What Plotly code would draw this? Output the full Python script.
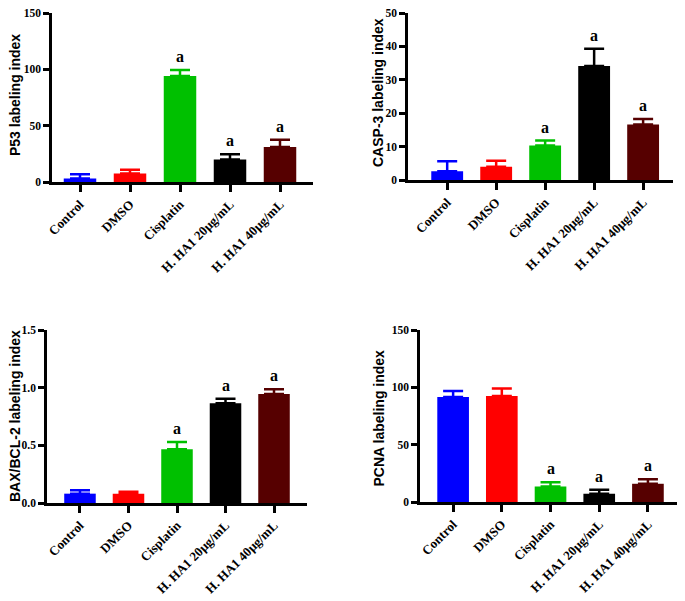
import plotly.graph_objects as go

groups = ["Control", "DMSO", "Cisplatin", "H. HA1 20μg/mL", "H. HA1 40μg/mL"]
colors = ["#0000FF", "#FF0000", "#00C000", "#000000", "#560000"]

p53_mean = [3.2, 7.5, 94, 20, 31]
p53_err = [3.6, 3.4, 5.3, 4.6, 6.4]
p53_sig = ["", "", "a", "a", "a"]

casp3_mean = [2.6, 4.0, 10.3, 34.1, 16.6]
casp3_err = [3.0, 1.8, 1.5, 5.2, 1.7]
casp3_sig = ["", "", "a", "a", "a"]

bax_mean = [0.081, 0.08, 0.467, 0.864, 0.945]
bax_err = [0.029, 0.017, 0.061, 0.04, 0.041]
bax_sig = ["", "", "a", "a", "a"]

pcna_mean = [91.6, 92.5, 13.5, 7.2, 15.9]
pcna_err = [5.2, 6.4, 3.8, 3.5, 4.0]
pcna_sig = ["", "", "a", "a", "a"]

W, H = 685, 601
OFF = 8  # default page body margin offsets the figure on screen


def fx(px):
    return (px - OFF) / W


def fy(py):
    return 1 - (py - OFF) / H


panels = [
    dict(mean=p53_mean, err=p53_err, sig=p53_sig, title="P53 labeling index",
         yr=[0, 150], tv=[0, 50, 100, 150], tt=["0", "50", "100", "150"],
         px=(52, 313), py=(13, 182), xr=[-0.56, 4.66], tx=15, ty=95),
    dict(mean=casp3_mean, err=casp3_err, sig=casp3_sig, title="CASP-3 labeling index",
         yr=[0, 50], tv=[0, 10, 20, 30, 40, 50], tt=["0", "10", "20", "30", "40", "50"],
         px=(408, 673), py=(13, 180), xr=[-0.8, 4.61], tx=378, ty=93),
    dict(mean=bax_mean, err=bax_err, sig=bax_sig, title="BAX/BCL-2 labeling index",
         yr=[0, 1.5], tv=[0, 0.5, 1.0, 1.5], tt=["0.0", "0.5", "1.0", "1.5"],
         px=(47, 307), py=(330, 503), xr=[-0.68, 4.68], tx=15, ty=416),
    dict(mean=pcna_mean, err=pcna_err, sig=pcna_sig, title="PCNA labeling index",
         yr=[0, 150], tv=[0, 50, 100, 150], tt=["0", "50", "100", "150"],
         px=(420, 683), py=(330, 502), xr=[-0.68, 4.72], tx=378.5, ty=418),
]

fig = go.Figure()
layout = dict(
    width=W, height=H, margin=dict(l=0, r=0, t=0, b=0, autoexpand=False),
    paper_bgcolor="white", plot_bgcolor="white", showlegend=False,
)
annotations = []
xtickfont = dict(family="Liberation Serif", size=13, color="black", weight="bold")
ytickfont = dict(family="Liberation Serif", size=11.5, color="black", weight="bold")

for i, p in enumerate(panels):
    k = "" if i == 0 else str(i + 1)
    xa, ya = "x" + k, "y" + k
    fig.add_trace(go.Bar(
        x=list(range(len(groups))), y=p["mean"], xaxis=xa, yaxis=ya,
        marker=dict(color=colors, line=dict(width=0)),
        width=0.65, hoverinfo="y",
    ))
    for j in range(len(groups)):
        fig.add_trace(go.Scatter(
            x=[j], y=[p["mean"][j]], xaxis=xa, yaxis=ya, mode="markers",
            marker=dict(size=1, color=colors[j], opacity=0),
            error_y=dict(type="data", symmetric=False, array=[p["err"][j]],
                         arrayminus=[0], thickness=2.5, width=10, color=colors[j]),
            hoverinfo="skip",
        ))
    x0, x1 = p["px"]
    y0, y1 = p["py"]
    layout["xaxis" + k] = dict(
        domain=[fx(x0), fx(x1)], range=p["xr"], anchor=ya, automargin=False,
        tickmode="array", tickvals=list(range(len(groups))), ticktext=groups,
        tickangle=-45, tickfont=xtickfont, ticks="outside", ticklen=7, tickwidth=2.5,
        tickcolor="black", showline=True, linecolor="black", linewidth=2.5,
        showgrid=False, zeroline=False, fixedrange=True, ticklabeloverflow="allow",
    )
    layout["yaxis" + k] = dict(
        domain=[fy(y1), fy(y0)], range=p["yr"], anchor=xa, automargin=False,
        tickmode="array", tickvals=p["tv"], ticktext=p["tt"],
        tickfont=ytickfont, ticks="outside", ticklen=6, tickwidth=2.5,
        tickcolor="black", showline=True, linecolor="black", linewidth=2.5,
        showgrid=False, zeroline=False, fixedrange=True, ticklabeloverflow="allow",
    )
    annotations.append(dict(
        text=p["title"], textangle=-90, xref="paper", yref="paper",
        x=fx(p["tx"]), y=fy(p["ty"]), xanchor="center", yanchor="middle",
        showarrow=False,
        font=dict(family="Liberation Sans", size=14, color="black", weight="bold"),
    ))
    for j in range(len(groups)):
        if p["sig"][j]:
            annotations.append(dict(
                text=p["sig"][j], x=j, y=p["mean"][j] + p["err"][j],
                xref=xa, yref=ya, xanchor="center", yanchor="bottom",
                yshift=3, showarrow=False,
                font=dict(family="Liberation Serif", size=16, color="black", weight="bold"),
            ))

layout["annotations"] = annotations
fig.update_layout(**layout)
fig.write_html("out.html")
